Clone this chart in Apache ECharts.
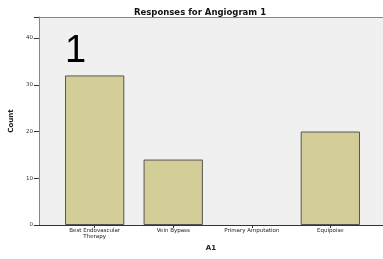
<!DOCTYPE html>
<html><head><meta charset="utf-8">
<script src="https://cdn.jsdelivr.net/npm/echarts@6/dist/echarts.min.js"></script>
<style>html,body{margin:0;padding:0;background:#fff}#c{width:383px;height:259px}</style>
</head><body><div id="c"></div>
<script>
const categories = ['Best Endovascular\nTherapy', 'Vein Bypass', 'Primary Amputation', 'Equipoise'];
const counts = [32, 14, 0, 20];
const yTicks = [0, 10, 20, 30, 40];

const chart = echarts.init(document.getElementById('c'), null, {renderer: 'canvas'});
const YMAX = 44.5;
chart.setOption({
  animation: false,
  backgroundColor: '#ffffff',
  title: [
    {text: 'Responses for Angiogram 1', left: 195, top: 3, textAlign: 'center',
     textStyle: {fontFamily: 'DejaVu Sans', fontSize: 8.5, fontWeight: 'bold', color: '#111'}},
    {text: '1', left: 60, top: 28,
     textStyle: {fontFamily: 'Liberation Sans', fontSize: 38, fontWeight: 'normal', color: '#000'}}
  ],
  grid: [
    {left: 38, right: 0, top: 17, bottom: 34, show: true, backgroundColor: '#f0f0f0', borderWidth: 0},
    {left: 55.4, right: 13.4, top: 17, bottom: 34}
  ],
  xAxis: [
    {gridIndex: 0, type: 'value', min: 0, max: 1, show: true,
     axisLine: {show: true, onZero: false, lineStyle: {color: '#333', width: 1}},
     axisTick: {show: false}, axisLabel: {show: false}, splitLine: {show: false},
     name: 'A1', nameLocation: 'middle', nameGap: 20,
     nameTextStyle: {fontFamily: 'DejaVu Sans', fontSize: 7, fontWeight: 'bold', color: '#222'}},
    {gridIndex: 1, type: 'category', data: categories,
     axisLine: {show: false}, axisTick: {show: true, alignWithLabel: true, length: 3, lineStyle: {color: '#333'}},
     axisLabel: {fontFamily: 'DejaVu Sans', fontSize: 5.5, color: '#222', margin: 3, lineHeight: 5.5, interval: 0}}
  ],
  yAxis: [
    {gridIndex: 0, type: 'value', min: 0, max: YMAX, interval: 10,
     axisLine: {show: true, lineStyle: {color: '#888', width: 1}},
     axisTick: {show: true, length: 5, lineStyle: {color: '#333'}},
     axisLabel: {fontFamily: 'DejaVu Sans', fontSize: 5.5, color: '#333', margin: 6,
       formatter: v => yTicks.includes(v) ? String(v) : ''},
     splitLine: {show: false},
     name: 'Count', nameLocation: 'middle', nameGap: 16, nameRotate: 90,
     nameTextStyle: {fontFamily: 'DejaVu Sans', fontSize: 7, fontWeight: 'bold', color: '#222'}},
    {gridIndex: 1, type: 'value', min: 0, max: YMAX, show: false}
  ],
  series: [
    {type: 'bar', xAxisIndex: 1, yAxisIndex: 1,
     data: counts.map(v => v === 0 ? {value: v, itemStyle: {borderWidth: 0}} : v),
     barCategoryGap: '24.5%',
     itemStyle: {color: '#d3ce97', borderColor: '#555', borderWidth: 1}}
  ],
  graphic: [
    {type: 'line', shape: {x1: 38, y1: 17.5, x2: 383, y2: 17.5}, style: {stroke: '#888', lineWidth: 1}}
  ]
});
</script></body></html>
